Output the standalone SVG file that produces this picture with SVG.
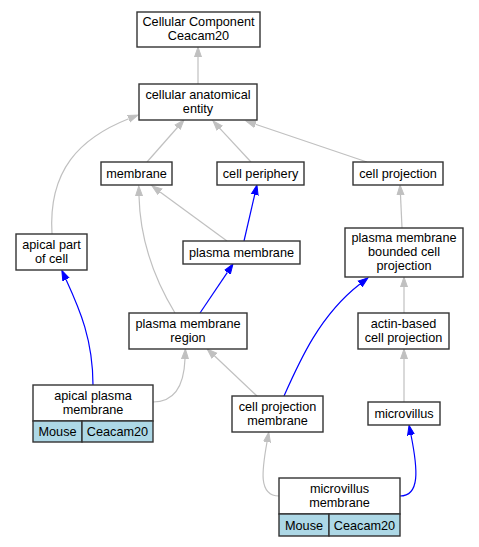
<svg xmlns="http://www.w3.org/2000/svg" width="479" height="547" viewBox="0 0 479 547">
<defs>
<style>
.n rect{fill:#fff;stroke:#333;stroke-width:1.4}
.n rect.sp{fill:#add8e6}
.n line{stroke:#333;stroke-width:1.4}
text{font-family:"Liberation Sans",Arial,sans-serif;font-size:12.7px;fill:#000;text-anchor:middle}
.e path{fill:none;stroke-width:1.2}
.g{stroke:#c0c0c0}
.b{stroke:#0000ff}
</style>
<marker id="ag" markerUnits="userSpaceOnUse" markerWidth="12" markerHeight="10" refX="0" refY="5" orient="auto" viewBox="0 0 12 10"><path d="M0,1.5 L10,5 L0,8.5 z" fill="#c0c0c0" stroke="#c0c0c0"/></marker>
<marker id="ab" markerUnits="userSpaceOnUse" markerWidth="12" markerHeight="10" refX="0" refY="5" orient="auto" viewBox="0 0 12 10"><path d="M0,1.5 L10,5 L0,8.5 z" fill="#0000ff" stroke="#0000ff"/></marker>
</defs>
<rect width="479" height="547" fill="#fff"/>
<g id="edges" class="e">
<path class="g" marker-end="url(#ag)" d="M198,84 L198,57"/>
<path class="g" marker-end="url(#ag)" d="M147,162 L177.4,127.5"/>
<path class="g" marker-end="url(#ag)" d="M251,162 L219.8,128.3"/>
<path class="g" marker-end="url(#ag)" d="M367,162 L255.5,124.2"/>
<path class="g" marker-end="url(#ag)" d="M52,234 C48,170 80,138 128.7,118.7"/>
<path class="g" marker-end="url(#ag)" d="M227,241 L160.1,191.9"/>
<path class="g" marker-end="url(#ag)" d="M175,313 C155,280 140,240 139,196"/>
<path class="b" marker-end="url(#ab)" d="M244,241 L254.7,194.7"/>
<path class="b" marker-end="url(#ab)" d="M200,313 L227.4,272.3"/>
<path class="g" marker-end="url(#ag)" d="M402,228 L400.5,195"/>
<path class="g" marker-end="url(#ag)" d="M404,313 L404,287"/>
<path class="b" marker-end="url(#ab)" d="M93,385 C93,340 80,310 66,279.5"/>
<path class="g" marker-end="url(#ag)" d="M153,402 C175,402 184,385 185,359"/>
<path class="g" marker-end="url(#ag)" d="M257,396 L214.4,355.8"/>
<path class="b" marker-end="url(#ab)" d="M284,396 C300,360 320,315 360,284"/>
<path class="g" marker-end="url(#ag)" d="M404,402 L404,359"/>
<path class="b" marker-end="url(#ab)" d="M400,496 C420,496 418,470 411,435"/>
<path class="g" marker-end="url(#ag)" d="M279,496 C258,496 262,470 267,442"/>
</g>
<g id="n_root" class="n"><rect x="137" y="12" width="123" height="35"/><text x="198.5" y="26">Cellular Component</text><text x="198.5" y="40">Ceacam20</text></g>
<g id="n_cae" class="n"><rect x="139" y="84" width="118" height="36"/><text x="198" y="98.5">cellular anatomical</text><text x="198" y="112.5">entity</text></g>
<g id="n_membrane" class="n"><rect x="101" y="162" width="71" height="23"/><text x="136.5" y="178">membrane</text></g>
<g id="n_periphery" class="n"><rect x="217" y="162" width="87" height="23"/><text x="260.5" y="178">cell periphery</text></g>
<g id="n_cellproj" class="n"><rect x="353" y="162" width="90" height="23"/><text x="398" y="178">cell projection</text></g>
<g id="n_apicalpart" class="n"><rect x="16" y="234" width="71" height="36"/><text x="51.5" y="248.5">apical part</text><text x="51.5" y="262.5">of cell</text></g>
<g id="n_pm" class="n"><rect x="183" y="241" width="117" height="23"/><text x="241.5" y="257">plasma membrane</text></g>
<g id="n_pmbcp" class="n"><rect x="345" y="228" width="118" height="49"/><text x="404" y="242">plasma membrane</text><text x="404" y="256">bounded cell</text><text x="404" y="270">projection</text></g>
<g id="n_pmr" class="n"><rect x="129" y="313" width="118" height="36"/><text x="188" y="327.5">plasma membrane</text><text x="188" y="341.5">region</text></g>
<g id="n_actin" class="n"><rect x="358" y="313" width="91" height="36"/><text x="403.5" y="327.5">actin-based</text><text x="403.5" y="341.5">cell projection</text></g>
<g id="n_apm" class="n"><rect x="33" y="385" width="120" height="36"/><rect class="sp" x="33" y="421" width="49" height="21"/><rect class="sp" x="82" y="421" width="71" height="21"/><text x="93" y="399.5">apical plasma</text><text x="93" y="413.5">membrane</text><text x="57.5" y="436">Mouse</text><text x="117.5" y="436">Ceacam20</text></g>
<g id="n_cpm" class="n"><rect x="232" y="396" width="91" height="36"/><text x="277.5" y="410.5">cell projection</text><text x="277.5" y="424.5">membrane</text></g>
<g id="n_microvillus" class="n"><rect x="368" y="402" width="72" height="23"/><text x="404" y="418">microvillus</text></g>
<g id="n_mm" class="n"><rect x="279" y="478" width="121" height="36"/><rect class="sp" x="279" y="514" width="50" height="22"/><rect class="sp" x="329" y="514" width="71" height="22"/><text x="339.5" y="492.5">microvillus</text><text x="339.5" y="506.5">membrane</text><text x="304" y="529.5">Mouse</text><text x="364.5" y="529.5">Ceacam20</text></g>
</svg>
